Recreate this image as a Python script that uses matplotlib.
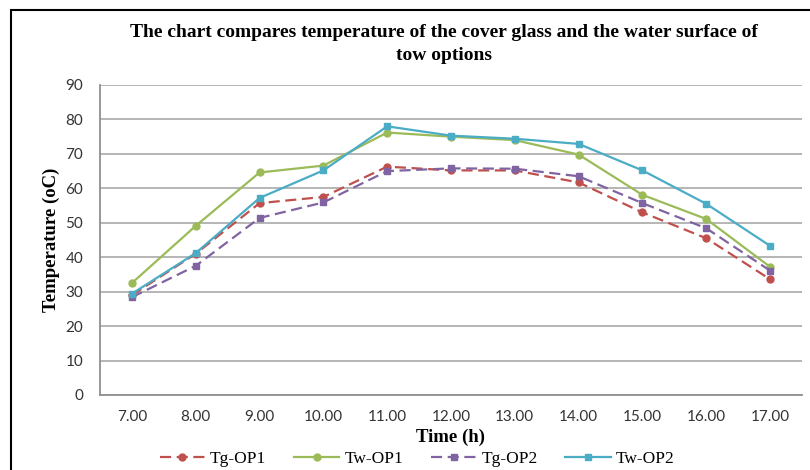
import matplotlib.pyplot as plt
import numpy as np
from matplotlib.patches import Rectangle

hours = ["7.00", "8.00", "9.00", "10.00", "11.00", "12.00", "13.00", "14.00", "15.00", "16.00", "17.00"]
tg_op1 = [29.0, 41.0, 55.7, 57.5, 66.3, 65.2, 65.2, 61.7, 53.0, 45.5, 33.6]
tw_op1 = [32.5, 49.1, 64.6, 66.6, 76.2, 75.0, 74.0, 69.8, 58.1, 51.1, 37.2]
tg_op2 = [28.4, 37.5, 51.4, 55.9, 65.0, 65.8, 65.7, 63.5, 55.7, 48.4, 36.1]
tw_op2 = [29.4, 41.2, 57.2, 65.2, 78.0, 75.3, 74.4, 72.9, 65.2, 55.5, 43.3]

SERIF = "Liberation Serif"
SANS = "Lato"

fig = plt.figure(figsize=(8.1, 4.7), dpi=100)
fig.patches.append(Rectangle((11 / 810, -0.1), 1.2, 1.1 - 10 / 470,
                             transform=fig.transFigure, fill=False,
                             edgecolor="black", linewidth=1.5))

ax = fig.add_axes([100 / 810, 1 - 395 / 470, 702 / 810, 310 / 470])
x = np.arange(len(hours))

ax.plot(x, tg_op1, color="#c0504d", linestyle=(0, (5, 2.5)), linewidth=1.6,
        marker="o", markersize=5, label="Tg-OP1")
ax.plot(x, tw_op1, color="#9bbb59", linewidth=1.6,
        marker="o", markersize=5, label="Tw-OP1")
ax.plot(x, tg_op2, color="#8064a2", linestyle=(0, (5, 2.5)), linewidth=1.6,
        marker="s", markersize=5, label="Tg-OP2")
ax.plot(x, tw_op2, color="#4bacc6", linewidth=1.6,
        marker="s", markersize=5, label="Tw-OP2")

ax.set_xlim(-0.5, len(hours) - 0.5)
ax.set_ylim(0, 90)
ax.set_yticks(np.arange(0, 91, 10))
ax.set_xticks(x, hours)
ax.tick_params(length=0, labelsize=11, labelcolor="#333333")
ax.tick_params(axis="x", pad=11)
ax.tick_params(axis="y", pad=12)
for lab in ax.get_xticklabels() + ax.get_yticklabels():
    lab.set_family(SANS)
ax.grid(True, axis="y", color="#b0b0b0", linewidth=1.3)
ax.set_axisbelow(True)
for side in ("top", "right"):
    ax.spines[side].set_visible(False)
for side in ("left", "bottom"):
    ax.spines[side].set_color("#909090")
    ax.spines[side].set_linewidth(1.3)

ax.set_xlabel("Time (h)", family=SERIF, fontweight="bold", fontsize=13.5, labelpad=3)
ax.set_ylabel("Temperature (oC)", family=SERIF, fontweight="bold", fontsize=13.5, labelpad=4)

fig.text(0.548, 0.906,
         "The chart compares temperature of the cover glass and the water surface of\ntow options",
         ha="center", va="center", family=SERIF, fontweight="bold", fontsize=14,
         linespacing=1.45)

fig.legend(loc="center", bbox_to_anchor=(0.515, 0.023), ncol=4, frameon=False,
           prop={"family": SERIF, "size": 12.5}, handlelength=2.6,
           columnspacing=1.6, handletextpad=0.3)

fig.savefig("out.png", dpi=100)
